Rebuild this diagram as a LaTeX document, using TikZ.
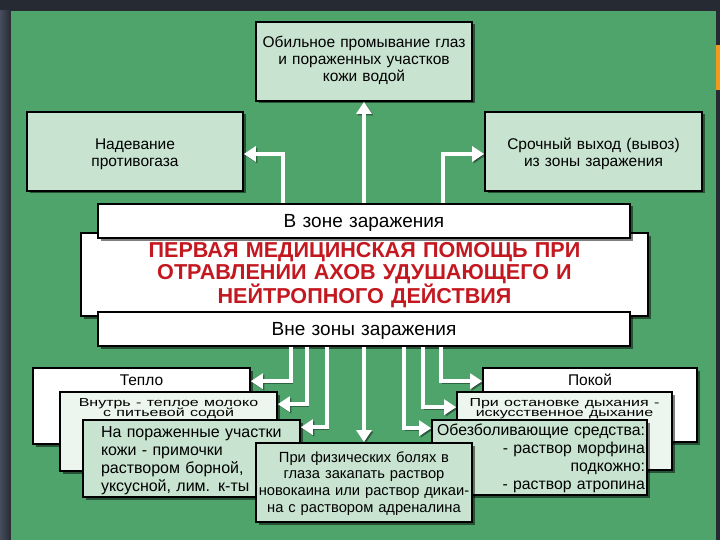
\documentclass[tikz,border=0pt]{standalone}
\usepackage{fontspec}
\setmainfont{Liberation Sans}
\usepackage{graphicx}
\usetikzlibrary{arrows.meta,shadows}

\definecolor{bggreen}{RGB}{78,164,107}
\definecolor{palegreen}{RGB}{200,228,208}
\definecolor{mintwhite}{RGB}{236,246,239}
\definecolor{darkbg}{RGB}{38,42,50}
\definecolor{sidebg}{RGB}{70,76,92}
\definecolor{titlered}{RGB}{196,24,32}
\definecolor{stripe}{RGB}{243,154,30}

\newcommand{\squeezed}[2]{\scalebox{1}[0.72]{\parbox[t]{#1}{\centering\lineskiplimit=-100pt #2}}}

\begin{document}
\begin{tikzpicture}[x=1pt,y=-1pt,
  plate/.style={draw=black,line width=1.6pt,inner xsep=4pt,inner ysep=0pt,anchor=base,align=center,
    drop shadow={shadow xshift=2.5pt,shadow yshift=-2.5pt,fill=black,opacity=0.5}},
  topfont/.style={font=\fontsize{15.5pt}{17pt}\selectfont},
  lowfont/.style={font=\fontsize{16pt}{18.3pt}\selectfont},
  zonefont/.style={font=\fontsize{19pt}{21pt}\selectfont},
  link/.style={draw=white,line width=4.5pt,-{Triangle[length=12pt,width=15pt]},
    preaction={draw=black,opacity=0.4,transform canvas={shift={(1.5pt,-1.5pt)}}}}]

\fill[darkbg] (0,0) rectangle (720,540);
\shade[left color=sidebg,right color=darkbg] (0,11) rectangle (11,540);
\fill[bggreen] (11,11) rectangle (716,540);
\fill[stripe] (716,45) rectangle (720,90);

\node[plate,fill=palegreen,topfont,text width=208pt,text height=26pt,text depth=53pt] (wash) at (364,48)
  {Обильное промывание глаз\\и пораженных участков\\кожи водой};
\node[plate,fill=palegreen,topfont,text width=208pt,text height=38pt,text depth=41pt] (mask) at (135,150)
  {Надевание\\противогаза};
\node[plate,fill=palegreen,topfont,text width=209pt,text height=38pt,text depth=41pt] (exit) at (593.5,150)
  {Срочный выход (вывоз)\\из зоны заражения};

\node[plate,fill=white,text=titlered,font=\fontsize{21.6pt}{22pt}\selectfont\bfseries,
  text width=559pt,text height=24pt,text depth=59pt] (title) at (364.5,257)
  {ПЕРВАЯ МЕДИЦИНСКАЯ ПОМОЩЬ ПРИ\\ОТРАВЛЕНИИ АХОВ УДУШАЮЩЕГО И\\НЕЙТРОПНОГО ДЕЙСТВИЯ};
\node[plate,fill=white,zonefont,text width=524pt,text height=24pt,text depth=10pt] (inzone) at (364,228)
  {В зоне заражения};
\node[plate,fill=white,zonefont,text width=524pt,text height=23pt,text depth=11pt] (outzone) at (364,335)
  {Вне зоны заражения};

\node[plate,fill=white,topfont,text width=209pt,text height=17pt,text depth=59pt] (teplo) at (141.5,385)
  {Тепло};
\node[plate,fill=mintwhite,font=\fontsize{16pt}{14.6pt}\selectfont,text width=209pt,text height=14pt,text depth=65pt] (inside) at (168.5,406)
  {\squeezed{205pt}{Внутрь - теплое молоко\\с питьевой содой}};
\node[plate,fill=palegreen,lowfont,align=left,inner xsep=18pt,text width=181pt,text height=17pt,text depth=60pt] (napor) at (191.5,437)
  {На пораженные участки\\кожи - примочки\\раствором борной,\\уксусной, лим. к-ты};

\node[plate,fill=white,topfont,text width=206pt,text height=17pt,text depth=57pt] (rest) at (590,385)
  {Покой\hspace*{18pt}};
\node[plate,fill=mintwhite,font=\fontsize{16pt}{14.6pt}\selectfont,text width=207pt,text height=14pt,text depth=64pt] (breath) at (564.5,406)
  {\squeezed{205pt}{При остановке дыхания -\\искусственное дыхание}};
\node[plate,fill=palegreen,font=\fontsize{15.8pt}{18.3pt}\selectfont,align=right,inner xsep=2pt,text width=211pt,text height=15pt,text depth=60pt] (pain) at (539.5,435)
  {Обезболивающие средства:\\- раствор морфина\\подкожно:\\- раствор атропина};

\node[plate,fill=palegreen,font=\fontsize{14.7pt}{16.7pt}\selectfont,inner xsep=1pt,text width=214pt,text height=19pt,text depth=60pt] (eyes) at (364,462)
  {При физических болях в\\глаза закапать раствор\\новокаина или раствор дикаи-\\на с раствором адреналина};

\draw[link] (inzone.north) -- (wash.south);
\draw[link] ([xshift=-81pt]inzone.north) |- ([yshift=-2.5pt]mask.east);
\draw[link] ([xshift=79pt]inzone.north) |- ([yshift=-2.5pt]exit.west);

\draw[link] ([xshift=-73pt]outzone.south) |- ([yshift=-14pt]teplo.north east);
\draw[link] ([xshift=-57pt]outzone.south) |- ([yshift=-13pt]inside.north east);
\draw[link] ([xshift=-37pt]outzone.south) |- ([yshift=-8pt]napor.north east);
\draw[link] (outzone.south) -- (eyes.north);
\draw[link] ([xshift=40pt]outzone.south) |- ([yshift=-9pt]pain.north west);
\draw[link] ([xshift=59pt]outzone.south) |- ([yshift=-16pt]breath.north west);
\draw[link] ([xshift=77pt]outzone.south) |- ([yshift=-14pt]rest.north west);

\end{tikzpicture}
\end{document}
